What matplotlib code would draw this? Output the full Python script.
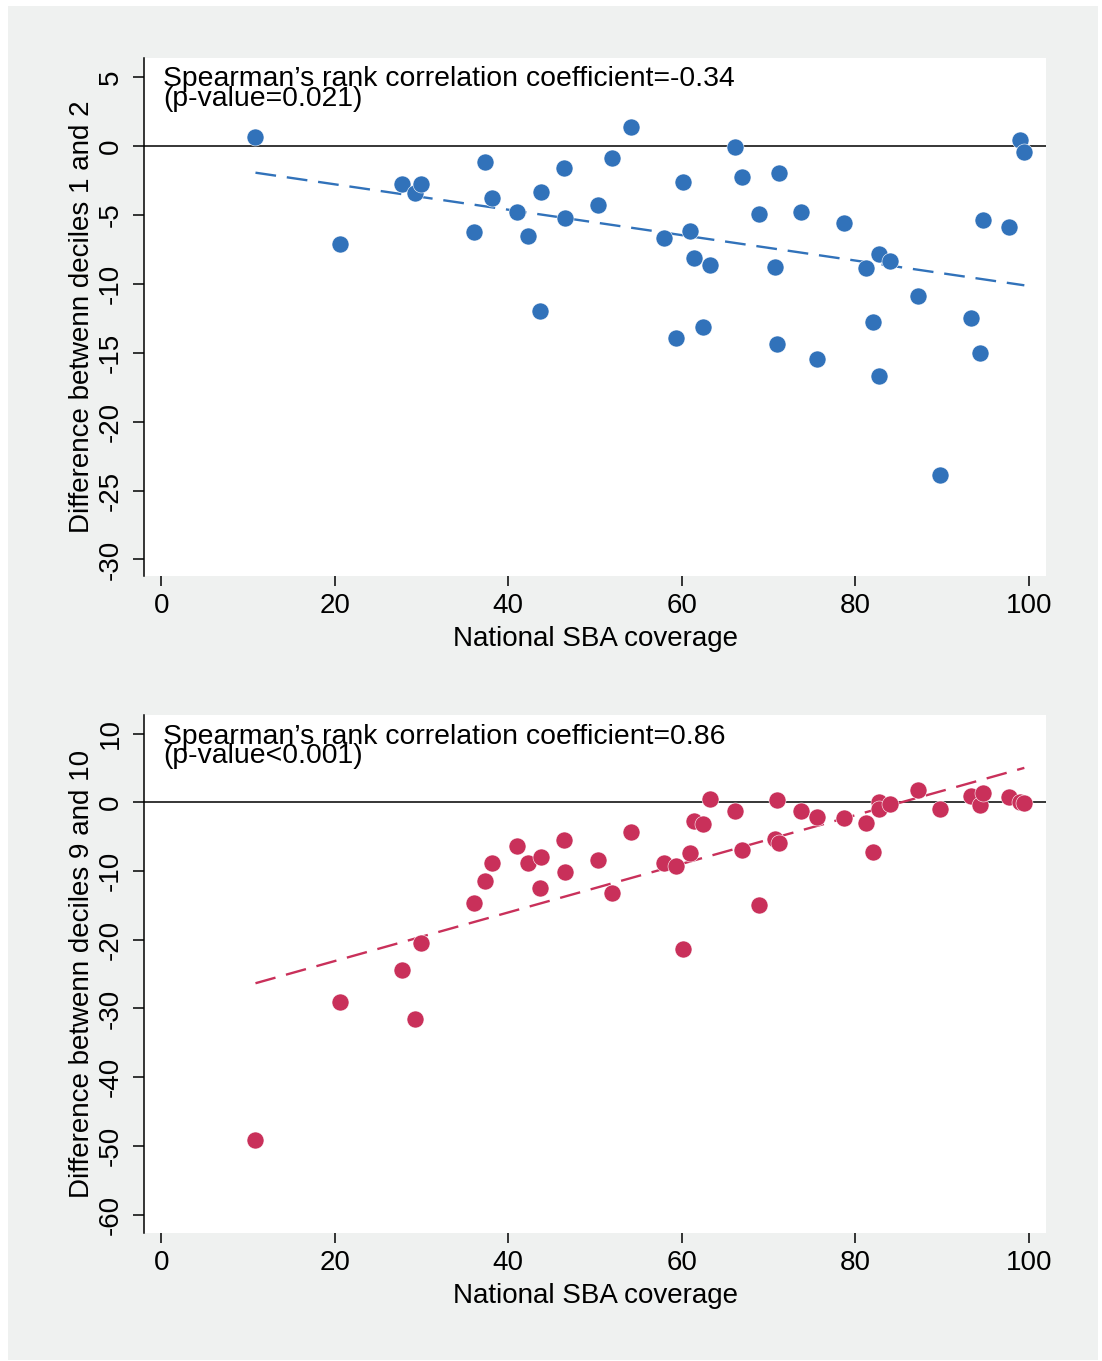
import numpy as np
import matplotlib
matplotlib.use("Agg")
import matplotlib.pyplot as plt
from matplotlib.patches import Rectangle

plt.rcParams['font.family'] = ['Liberation Sans', 'DejaVu Sans']
plt.rcParams['axes.unicode_minus'] = False

# national SBA coverage (same countries in both panels)
sba = [10.85, 20.65, 27.7, 29.2, 29.9, 36.0, 37.3, 38.1, 41.0, 42.3,
       43.6, 43.8, 46.4, 46.5, 50.4, 52.0, 54.1, 57.9, 59.3, 60.1,
       61.0, 61.4, 62.5, 63.3, 66.1, 67.0, 68.9, 70.8, 71.0, 71.2,
       73.8, 75.6, 78.7, 81.2, 82.0, 82.8, 82.7, 84.0, 87.2, 89.8,
       93.3, 94.4, 94.7, 97.7, 99.0, 99.5]

# difference between deciles 1 and 2
diff_low = [0.7, -7.1, -2.75, -3.4, -2.75, -6.2, -1.15, -3.8, -4.8, -6.55,
            -12.0, -3.3, -1.55, -5.2, -4.3, -0.85, 1.4, -6.65, -13.9, -2.6,
            -6.15, -8.15, -13.1, -8.6, -0.05, -2.25, -4.95, -8.8, -14.35, -1.95,
            -4.8, -15.45, -5.6, -8.85, -12.75, -7.8, -16.7, -8.35, -10.85, -23.85,
            -12.45, -15.0, -5.35, -5.9, 0.45, -0.45]

# difference between deciles 9 and 10
diff_high = [-49.2, -29.1, -24.4, -31.5, -20.5, -14.6, -11.5, -8.9, -6.4, -8.9,
             -12.4, -8.0, -5.5, -10.2, -8.4, -13.2, -4.3, -8.9, -9.3, -21.4,
             -7.4, -2.7, -3.2, 0.5, -1.3, -6.9, -15.0, -5.4, 0.4, -5.9,
             -1.3, -2.1, -2.3, -3.0, -7.3, 0.05, -0.9, -0.3, 1.85, -0.9,
             0.9, -0.4, 1.35, 0.73, 0.1, -0.04]

panels = [
    dict(y=diff_low, color='#3172ba', ylim=(-31.2, 6.4), yticks=range(5, -31, -5),
         ylabel='Difference betwenn deciles 1 and 2',
         line1="Spearman\u2019s rank correlation coefficient=-0.34",
         line2='(p-value=0.021)', rect=[0.1307, 0.5768, 0.8185, 0.3806]),
    dict(y=diff_high, color='#c9305a', ylim=(-62.7, 12.7), yticks=range(10, -61, -10),
         ylabel='Difference betwenn deciles 9 and 10',
         line1="Spearman\u2019s rank correlation coefficient=0.86",
         line2='(p-value<0.001)', rect=[0.1307, 0.0940, 0.8185, 0.3806]),
]

fig = plt.figure(figsize=(11.02, 13.61), dpi=100)
fig.patch.set_facecolor('white')
fig.patches.append(Rectangle((8 / 1102, 1 - 1360 / 1361), 1090 / 1102, 1354 / 1361,
                             transform=fig.transFigure, facecolor='#eff1f0',
                             edgecolor='none', zorder=-10))

x = np.array(sba)
for p in panels:
    ax = fig.add_axes(p['rect'])
    ax.set_facecolor('white')
    y = np.array(p['y'])

    ax.axhline(0, color='black', lw=1.1, zorder=1)
    ax.scatter(x, y, s=150, color=p['color'], edgecolors='white', linewidths=0.4, zorder=3)

    # linear fit
    b, a = np.polyfit(x, y, 1)
    xf = np.array([x.min(), x.max()])
    ax.plot(xf, a + b * xf, color=p['color'], lw=1.7, dashes=(8.8, 4.6), zorder=2)

    ax.set_xlim(-2, 102)
    ax.set_ylim(*p['ylim'])
    ax.set_xticks(range(0, 101, 20))
    ax.set_yticks(list(p['yticks']))
    ax.set_yticklabels([str(v) for v in p['yticks']], rotation=90, va='center')

    for side in ['top', 'right', 'bottom']:
        ax.spines[side].set_visible(False)
    ax.spines['left'].set_linewidth(1.1)
    ax.tick_params(axis='x', length=7.5, width=1.1, pad=5, labelsize=20)
    ax.tick_params(axis='y', length=8, width=1.1, pad=6.7, labelsize=20)

    ax.set_xlabel('National SBA coverage', fontsize=20, labelpad=5)
    ax.set_ylabel(p['ylabel'], fontsize=20, labelpad=1.8)

    ax.text(0.021, 0.945, p['line1'], transform=ax.transAxes, fontsize=20.4,
            ha='left', va='baseline')
    ax.text(0.021, 0.907, p['line2'], transform=ax.transAxes, fontsize=20.4,
            ha='left', va='baseline')

fig.savefig('out.png', dpi=100, facecolor=fig.get_facecolor())
